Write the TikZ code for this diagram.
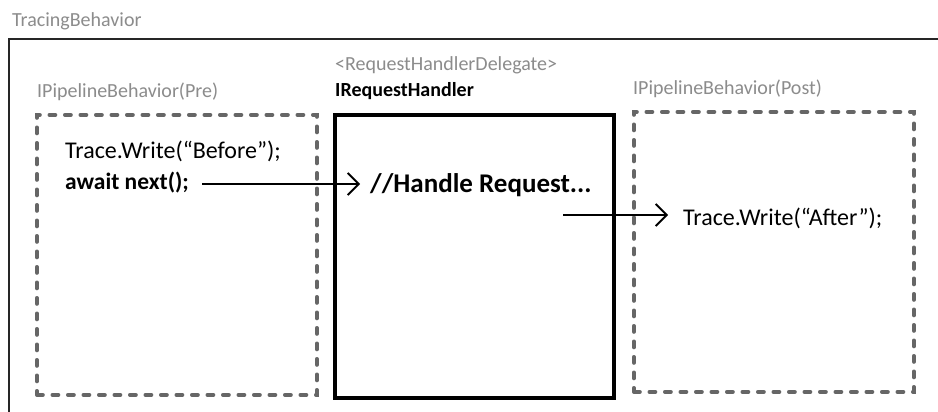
\documentclass[tikz,border=0pt]{standalone}
\usepackage{fontspec}
\setmainfont{Carlito}
\usetikzlibrary{arrows.meta}
\definecolor{labelgray}{HTML}{8C8C8C}
\definecolor{dashgray}{HTML}{666666}
\tikzset{
  caption/.style={anchor=base west, inner sep=0pt, text=labelgray, font=\fontsize{20}{24}\selectfont},
  code/.style={anchor=base west, inner sep=0pt, text=black, font=\fontsize{24}{28}\selectfont},
  behaviorbox/.style={draw=dashgray, line width=3.8pt, dash pattern=on 6pt off 9.5pt, line cap=round, anchor=north west, inner sep=0pt},
  handlerbox/.style={draw=black, line width=4pt, anchor=north west, inner sep=0pt},
  flow/.style={-{Straight Barb[length=11pt,width=22pt,line width=1.8pt]}, line width=1.8pt},
}
\begin{document}
\begin{tikzpicture}[x=1pt,y=-1pt]
  \useasboundingbox[fill=white] (0,0) rectangle (938,412);
  % outer container
  \node[caption] (tb) at (12,27) {TracingBehavior};
  \draw[line width=2pt, black!85] (938,39) -- (9,39) -- (9,412);
  % the three stages
  \node[behaviorbox, minimum width=280pt, minimum height=280pt] (pre) at (35,113) {};
  \node[handlerbox, minimum width=279pt, minimum height=283pt] (handler) at (333,113) {};
  \node[behaviorbox, minimum width=280pt, minimum height=280pt] (post) at (632,110) {};
  % titles
  \node[caption] (pretitle) at (37,98) {IPipelineBehavior(Pre)};
  \node[caption] (deltitle) at (335,71) {<RequestHandlerDelegate>};
  \node[caption, text=black, font=\fontsize{20}{24}\selectfont\bfseries] (handtitle) at (335,97) {IRequestHandler};
  \node[caption] (posttitle) at (633,95) {IPipelineBehavior(Post)};
  % code lines
  \node[code] (before) at (65,158) {Trace.Write(“Before”);};
  \node[code, font=\fontsize{23.5}{28}\selectfont\bfseries] (await) at (65,189) {await next();};
  \node[code, font=\fontsize{27}{32}\selectfont\bfseries] (handle) at (370,192) {//Handle Request...};
  \node[code] (after) at (683,225) {Trace.Write(“After”);};
  % control flow
  \coordinate (a0) at (202,184);
  \draw[flow, shorten >=10pt] (a0) -- (a0 -| handle.west);
  \coordinate (r0) at (563,215);
  \draw[flow, shorten >=15pt] (r0) -- (r0 -| after.west);
\end{tikzpicture}
\end{document}
